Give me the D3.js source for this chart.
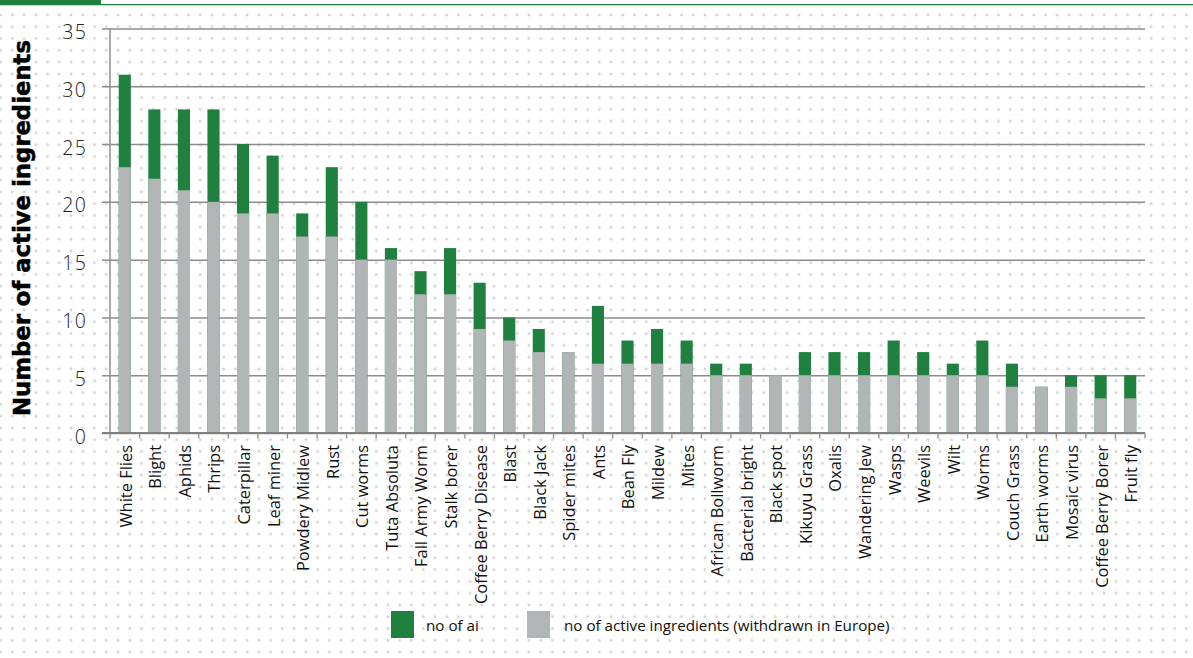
<!DOCTYPE html>
<html>
<head>
<meta charset="utf-8">
<script src="https://cdn.jsdelivr.net/npm/d3@7"></script>
<style>
  html, body { margin: 0; padding: 0; background: #fff; }
  svg { display: block; }
</style>
</head>
<body>
<svg id="chart" width="1193" height="658"></svg>
<script>
const categories = ["White Flies","Blight","Aphids","Thrips","Caterpillar","Leaf miner","Powdery Midlew","Rust","Cut worms","Tuta Absoluta","Fall Army Worm","Stalk borer","Coffee Berry Disease","Blast","Black Jack","Spider mites","Ants","Bean Fly","Mildew","Mites","African Bollworm","Bacterial bright","Black spot","Kikuyu Grass","Oxalis","Wandering Jew","Wasps","Weevils","Wilt","Worms","Couch Grass","Earth worms","Mosaic virus","Coffee Berry Borer","Fruit fly"];
// total number of active ingredients (top of green)
const totalAi = [31,28,28,28,25,24,19,23,20,16,14,16,13,10,9,7,11,8,9,8,6,6,5,7,7,7,8,7,6,8,6,4,5,5,5];
// of which withdrawn in Europe (grey)
const withdrawnAi = [23,22,21,20,19,19,17,17,15,15,12,12,9,8,7,7,6,6,6,6,5,5,5,5,5,5,5,5,5,5,4,4,4,3,3];
const yTicks = [0,5,10,15,20,25,30,35];
const legendLabels = ["no of ai", "no of active ingredients (withdrawn in Europe)"];
const seriesColors = ["#1f8040", "#b2b5b5"];

(function () {
const svg = d3.select("#chart");
const W = 1193, H = 658;
const pLeft = 110, pRight = 1145, pTop = 28.5, pBottom = 433;

// dotted background
const defs = svg.append("defs");
const pat = defs.append("pattern").attr("id","dots").attr("patternUnits","userSpaceOnUse")
  .attr("width", 11.74).attr("height", 11.8).attr("x", 0.6).attr("y", 3.2);
[[0,0],[11.74,0],[0,11.8],[11.74,11.8]].forEach(p =>
  pat.append("circle").attr("cx", p[0]).attr("cy", p[1]).attr("r", 1.45).attr("fill", "#d4d4d4"));
svg.append("rect").attr("width", W).attr("height", H).attr("fill", "#fff");
svg.append("rect").attr("y", 8).attr("width", W).attr("height", H-8).attr("fill", "url(#dots)");

// top decoration
svg.append("rect").attr("x",0).attr("y",0).attr("width",101).attr("height",5).attr("fill","#1f8040");
svg.append("line").attr("x1",0).attr("x2",W).attr("y1",4.6).attr("y2",4.6).attr("stroke","#1f8040").attr("stroke-width",1.3);

const x = d3.scaleBand().domain(categories).range([pLeft, pRight]).paddingInner(0.59).paddingOuter(0.295);
const xb = d3.scaleBand().domain(categories).range([pLeft, pRight]).padding(0);
const y = d3.scaleLinear().domain([0, 35]).range([pBottom, pTop]);

const axisColor = "#8c8c8c";

// gridlines + y axis
const yAxis = d3.axisLeft(y).tickValues(yTicks).tickSize(0).tickFormat(d => d);
const gy = svg.append("g").attr("transform", `translate(${pLeft - 8},0)`);
gy.call(yAxis);
gy.select(".domain").remove();
gy.selectAll(".tick line").attr("stroke", axisColor).attr("stroke-width", 1.5).attr("x1", 0).attr("x2", pRight - pLeft + 8);
gy.selectAll(".tick text")
  .attr("font-family", "'Open Sans', 'DejaVu Sans', sans-serif")
  .attr("font-weight", 300)
  .attr("font-size", 19.5)
  .attr("letter-spacing", 1.2)
  .attr("fill", "#222")
  .attr("dy", "0.52em")
  .attr("x", -15);

// bars
const data = categories.map((c, i) => ({c, total: totalAi[i], withdrawn: withdrawnAi[i]}));
const bars = svg.append("g");
bars.selectAll("rect.green").data(data).join("rect").attr("class","green")
  .attr("x", d => x(d.c)).attr("width", x.bandwidth())
  .attr("y", d => y(d.total)).attr("height", d => y(0) - y(d.total))
  .attr("fill", seriesColors[0]);
bars.selectAll("rect.grey").data(data).join("rect").attr("class","grey")
  .attr("x", d => x(d.c)).attr("width", x.bandwidth())
  .attr("y", d => y(d.withdrawn)).attr("height", d => y(0) - y(d.withdrawn))
  .attr("fill", seriesColors[1]);

// y axis vertical line
svg.append("line").attr("x1", pLeft).attr("x2", pLeft).attr("y1", pTop).attr("y2", pBottom)
  .attr("stroke", axisColor).attr("stroke-width", 1.5);
// x axis baseline
svg.append("line").attr("x1", pLeft - 8).attr("x2", pRight).attr("y1", pBottom).attr("y2", pBottom)
  .attr("stroke", "#808080").attr("stroke-width", 1.8);
// x ticks at band boundaries
const bounds = categories.map(c => xb(c)).concat([pRight]);
svg.append("g").selectAll("line").data(bounds).join("line")
  .attr("x1", d => d).attr("x2", d => d).attr("y1", pBottom).attr("y2", pBottom + 5.5)
  .attr("stroke", axisColor).attr("stroke-width", 1.3);

// category labels
const catFont = "'Open Sans', 'DejaVu Sans', sans-serif";
const gl = svg.append("g");
const labels = gl.selectAll("text").data(categories).join("text")
  .attr("transform", d => `translate(${x(d) + x.bandwidth()/2 + 1},445) rotate(-90)`)
  .attr("text-anchor", "end")
  .attr("dy", "0.36em")
  .attr("font-family", catFont)
  .attr("font-size", 15)
  .attr("fill", "#111")
  .text(d => d);
{
  const node = labels.filter(d => d === "Coffee Berry Borer").node();
  const len = node.getComputedTextLength();
  labels.attr("font-size", 15 * 143 / len);
}

// y title
const yt = svg.append("text")
  .attr("transform", `translate(30,228) rotate(-90)`)
  .attr("text-anchor", "middle")
  .attr("font-family", "'DejaVu Sans', sans-serif")
  .attr("font-weight", "bold")
  .attr("font-size", 22)
  .attr("fill", "#000")
  .attr("stroke", "#000")
  .attr("stroke-width", 0.5)
  .text("Number of active ingredients");
{
  const len = yt.node().getComputedTextLength();
  yt.attr("font-size", 22 * 376 / len);
}

// legend
const lg = svg.append("g");
const legX = [391, 527];
const legTextX = [426, 564];
const legTexts = [];
legendLabels.forEach((t, i) => {
  lg.append("rect").attr("x", legX[i]).attr("y", 611).attr("width", 23).attr("height", 27).attr("fill", seriesColors[i]);
  legTexts.push(lg.append("text").attr("x", legTextX[i]).attr("y", 631)
    .attr("font-family", catFont).attr("font-size", 15).attr("fill", "#111").text(t));
});
{
  const len = legTexts[1].node().getComputedTextLength();
  legTexts.forEach(t => t.attr("font-size", 15 * 326 / len));
}
})();
</script>
</body>
</html>
